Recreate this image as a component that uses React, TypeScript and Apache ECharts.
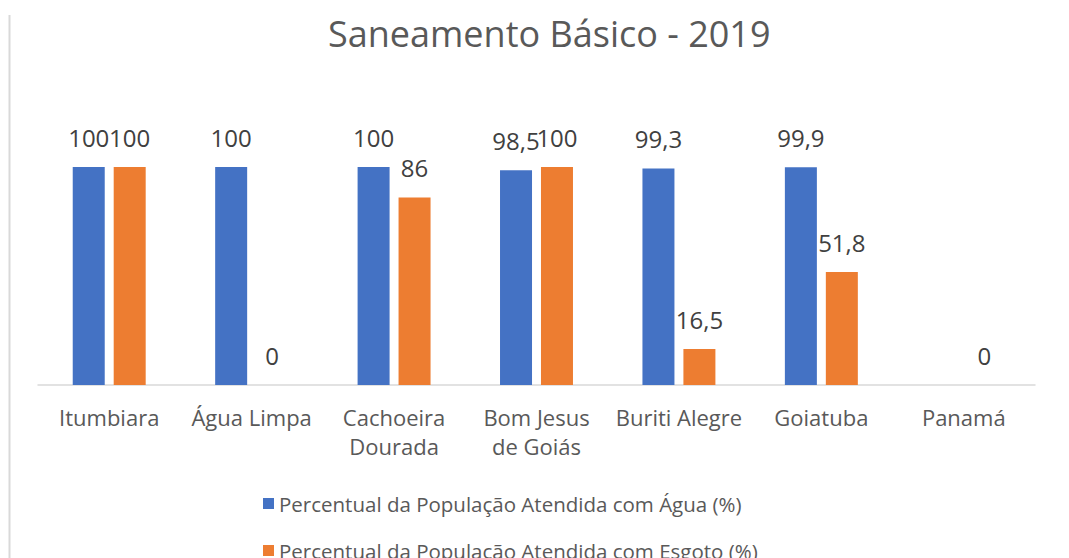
import React, { useEffect, useRef } from "react";
import * as echarts from "echarts";

const categories = ["Itumbiara", "Água Limpa", "Cachoeira\nDourada", "Bom Jesus\nde Goiás", "Buriti Alegre", "Goiatuba", "Panamá"];
const agua: (number | null)[] = [100, 100, 100, 98.5, 99.3, 99.9, null];
const esgoto: (number | null)[] = [100, 0, 86, 100, 16.5, 51.8, 0];
const seriesNames = [
  "Percentual da População Atendida com Água (%)",
  "Percentual da População Atendida com Esgoto (%)",
];
const titleText = "Saneamento Básico - 2019";

const FONT = "'Open Sans', sans-serif";

export default function App() {
  const ref = useRef<HTMLDivElement>(null);
  useEffect(() => {
    if (!ref.current) return;
    const chart = echarts.init(ref.current, null, { renderer: "svg" });
    const label = {
      show: true,
      position: "top" as const,
      distance: 18,
      fontSize: 24,
      fontFamily: FONT,
      color: "#404040",
      formatter: (p: any) => String(p.value).replace(".", ","),
    };
    const legendBase = {
      orient: "horizontal" as const,
      left: 258,
      itemWidth: 11,
      itemHeight: 11,
      icon: "rect",
      textStyle: { fontSize: 20.5, color: "#595959", fontFamily: FONT },
    };
    chart.setOption({
      animation: false,
      backgroundColor: "#ffffff",
      title: {
        text: titleText,
        left: 323,
        top: 10,
        textStyle: { fontSize: 36, fontWeight: "normal", color: "#595959", fontFamily: FONT },
      },
      graphic: [
        {
          type: "line",
          shape: { x1: 9.5, y1: 15, x2: 9.5, y2: 558 },
          style: { stroke: "#d9d9d9", lineWidth: 2 },
        },
      ],
      legend: [
        { ...legendBase, top: 488, data: [seriesNames[0]] },
        { ...legendBase, top: 535, data: [seriesNames[1]] },
      ],
      grid: { left: 38, right: 34, top: 167, bottom: 173, containLabel: false },
      xAxis: {
        type: "category",
        data: categories,
        axisLine: { lineStyle: { color: "#d9d9d9", width: 1.5 } },
        axisTick: { show: false },
        axisLabel: {
          interval: 0,
          margin: 17,
          fontSize: 22,
          lineHeight: 29,
          color: "#595959",
          fontFamily: FONT,
        },
      },
      yAxis: {
        type: "value",
        min: 0,
        max: 100,
        show: false,
        splitLine: { show: false },
      },
      series: [
        {
          name: seriesNames[0],
          type: "bar",
          data: agua,
          barWidth: 32,
          barGap: "28%",
          itemStyle: { color: "#4472C4" },
          label,
        },
        {
          name: seriesNames[1],
          type: "bar",
          data: esgoto,
          barWidth: 32,
          barGap: "28%",
          itemStyle: { color: "#ED7D31" },
          label,
        },
      ],
    });
    return () => chart.dispose();
  }, []);
  return (
    <div
      ref={ref}
      style={{ position: "absolute", left: 0, top: 0, width: 1069, height: 558 }}
    />
  );
}
